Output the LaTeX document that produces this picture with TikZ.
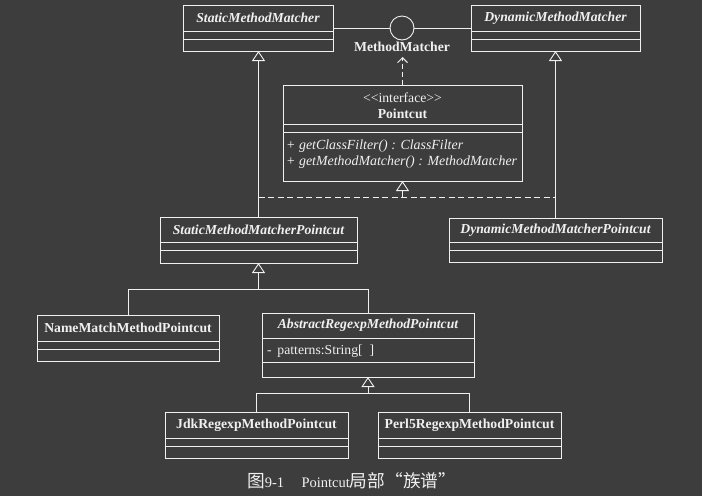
\documentclass[tikz,border=0pt]{standalone}
\usepackage{fontspec}
\setmainfont{Liberation Serif}
\newfontfamily\cjk[Scale=1.22]{Noto Sans CJK SC}
\usetikzlibrary{arrows.meta}
\definecolor{bg}{HTML}{3D3D3D}
\definecolor{fg}{HTML}{F0F0F0}
\tikzset{
  ln/.style={draw=fg, line width=0.9pt},
  classbox/.style={ln, rectangle, inner sep=0pt, outer sep=0pt},
  lbl/.style={text=fg, inner sep=0pt, font=\fontsize{13.7}{16}\selectfont\bfseries\itshape},
  lblb/.style={text=fg, inner sep=0pt, font=\fontsize{13.7}{16}\selectfont\bfseries},
  txt/.style={text=fg, inner sep=0pt, font=\fontsize{13.7}{16}\selectfont},
  txti/.style={text=fg, inner sep=0pt, font=\fontsize{13.9}{16}\selectfont\itshape},
  gen/.style={ln, -{Triangle[open, length=10pt, width=13pt]}},
  dep/.style={ln, dash pattern=on 5pt off 3pt, -{Straight Barb[length=5pt, width=10pt]}},
  real/.style={ln, dash pattern=on 6pt off 3.5pt},
}
\newcommand\umlclass[9]{%
  \node[classbox, minimum width={(#4-#2)*1pt}, minimum height={(#5-#3)*1pt}] (#1) at ({(#2+#4)/2},{(#3+#5)/2}) {};
  \draw[ln] (#2,#6) -- (#4,#6);
  \draw[ln] (#2,#7) -- (#4,#7);
  \node[#9] (#1-t) at ({(#2+#4)/2},{(#3+#6)/2}) {#8};
}
\begin{document}
\begin{tikzpicture}[x=1pt, y=-1pt]
\fill[bg] (0,0) rectangle (702,496);
\useasboundingbox (0,0) rectangle (702,496);

% top row
\umlclass{smm}{183}{5}{333}{51}{31}{39}{StaticMethodMatcher}{lbl}
\umlclass{dmm}{471}{5}{640}{51}{31}{39}{DynamicMethodMatcher}{lbl}
\node[circle, ln, minimum size=24pt, inner sep=0pt] (mm) at (402,28) {};
\draw[ln] (smm.east) -- (mm.west);
\draw[ln] (mm.east) -- (dmm.west);
\node[lblb] (mml) at (402,47) {MethodMatcher};

% Pointcut interface
\umlclass{pc}{283}{85}{522}{181}{124}{132}{}{txt}
\node[txt] (pcs) at (402.5,98) {<{}<interface>{}>};
\node[lblb] (pcn) at (402.5,114) {Pointcut};
\node[txti, anchor=west] (m1) at (286,146) {+ getClassFilter() : ClassFilter};
\node[txti, anchor=west] (m2) at (286,162) {+ getMethodMatcher() : MethodMatcher};
\coordinate (mmarr) at (402.5,57);
\draw[dep] (pc.north) -- (mmarr);

% second row
\umlclass{smmp}{160}{217}{357}{263}{242}{250}{StaticMethodMatcherPointcut}{lbl}
\umlclass{dmmp}{449}{218}{662}{262}{242}{250}{DynamicMethodMatcherPointcut}{lbl}
\draw[gen] (smmp.north) -- (smmp.north |- smm.south);
\draw[gen] (dmmp.north) -- (dmmp.north |- dmm.south);
\coordinate (j1) at (402.5,197);
\draw[real] (smmp.north |- j1) -- (dmmp.north |- j1);
\draw[gen] (j1) -- (pc.south);

% third row
\umlclass{nmp}{37}{315}{219}{361}{341}{349}{NameMatchMethodPointcut}{lblb}
\umlclass{arp}{262}{313}{474}{377}{338}{362}{AbstractRegexpMethodPointcut}{lbl}
\node[txt, anchor=west] (pat) at (267,351) {-\, patterns:String[\,\,\,]};
\coordinate (j2) at (258.5,289);
\draw[gen] (j2) -- (smmp.south);
\draw[ln] (nmp.north) |- (arp.north |- j2) -- (arp.north);

% fourth row
\umlclass{jdk}{165}{412}{348}{458}{438}{446}{JdkRegexpMethodPointcut}{lblb}
\umlclass{perl}{378}{412}{561}{458}{438}{446}{Perl5RegexpMethodPointcut}{lblb}
\coordinate (j3) at (368,393);
\draw[gen] (j3) -- (arp.south);
\draw[ln] (jdk.north) |- (perl.north |- j3) -- (perl.north);

% caption
\node[text=fg, inner sep=0pt, anchor=west, font=\fontsize{14.5}{17}\selectfont] (cap) at (247,481)
  {{\cjk 图}9-1\hspace{1.2em}Pointcut{\cjk 局部“族谱”}};
\end{tikzpicture}
\end{document}
